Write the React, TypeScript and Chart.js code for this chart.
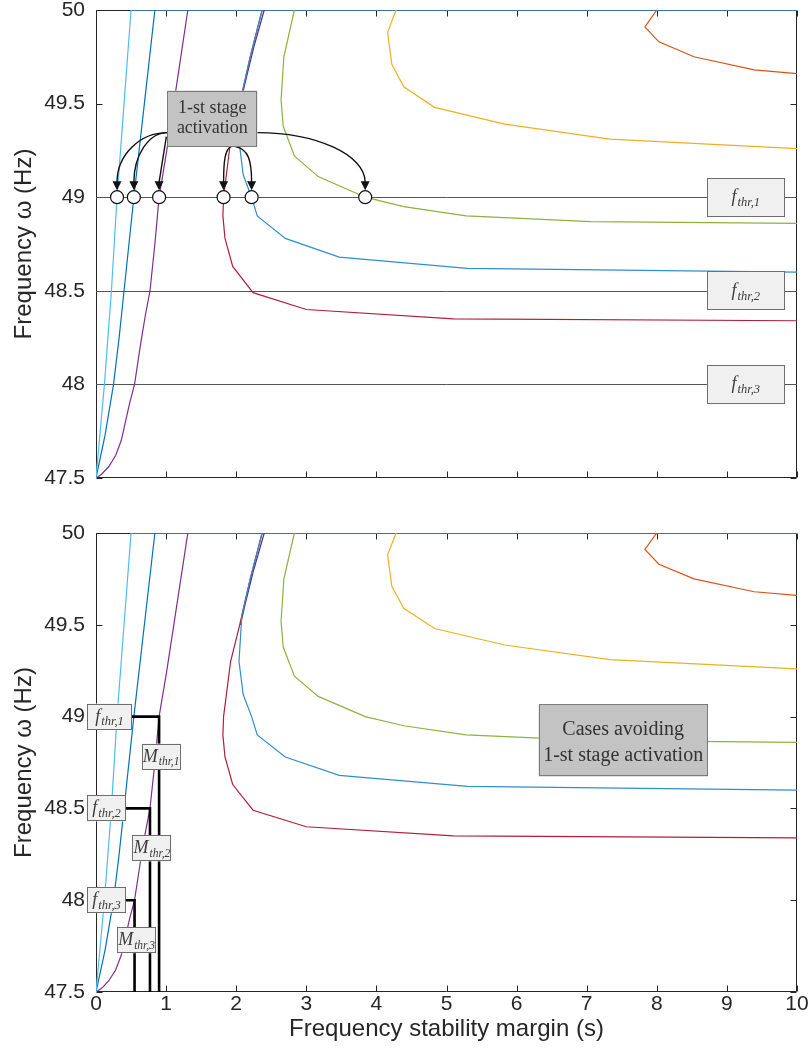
import { useEffect, useRef } from 'react';
import { Chart, registerables } from 'chart.js';

Chart.register(...registerables);

// ---- axes ----
const xTickValues = [0, 1, 2, 3, 4, 5, 6, 7, 8, 9, 10];
const yTickValues = [47.5, 48, 48.5, 49, 49.5, 50];

// ---- contour curves: frequency nadir vs. stability margin ----
const cyanX = [0, 0.12, 0.22, 0.3, 0.4, 0.5];
const cyanY = [47.5, 48, 48.5, 49, 49.5, 50];

const blueX = [0, 0.13, 0.25, 0.33, 0.4, 0.54, 0.69, 0.84];
const blueY = [47.5, 47.73, 48, 48.25, 48.5, 49, 49.5, 50];

const purpleX = [0, 0.08, 0.18, 0.28, 0.36, 0.42, 0.48, 0.55, 0.63, 0.7, 0.77, 0.84, 0.9, 1.01, 1.11, 1.21, 1.31];
const purpleY = [47.5, 47.52, 47.56, 47.62, 47.7, 47.8, 47.9, 48.0, 48.2, 48.36, 48.5, 48.75, 49.0, 49.25, 49.5, 49.75, 50];

const darkPurpleX = [2.4, 2.25, 2.12, 2.06];
const darkPurpleY = [50, 49.8, 49.6, 49.5];

const redX = [2.37, 2.2, 2.05, 1.92, 1.82, 1.81, 1.84, 1.95, 2.24, 3.0, 5.1, 10];
const redY = [50, 49.75, 49.5, 49.3, 49.0, 48.9, 48.78, 48.63, 48.49, 48.4, 48.35, 48.34];

const midBlueX = [2.37, 2.2, 2.08, 2.04, 2.1, 2.22, 2.3, 2.7, 3.47, 5.3, 10];
const midBlueY = [50, 49.75, 49.55, 49.3, 49.12, 49.0, 48.9, 48.78, 48.68, 48.62, 48.6];

const greenX = [2.83, 2.68, 2.64, 2.67, 2.83, 3.17, 3.84, 4.39, 5.28, 7.06, 10];
const greenY = [50, 49.75, 49.52, 49.38, 49.22, 49.11, 49.0, 48.95, 48.9, 48.87, 48.86];

const yellowX = [4.28, 4.16, 4.22, 4.39, 4.83, 5.83, 7.33, 10];
const yellowY = [50, 49.88, 49.71, 49.59, 49.48, 49.39, 49.31, 49.26];

const orangeX = [8.0, 7.83, 8.03, 8.53, 9.39, 10];
const orangeY = [50, 49.91, 49.83, 49.75, 49.68, 49.66];

const topEdgeX = [0.5, 10];
const topEdgeY = [50, 50];

// ---- thresholds ----
const freqThresholds = [49, 48.5, 48];
const thresholdSubs = ['thr,1', 'thr,2', 'thr,3'];
const marginThresholds = [0.9, 0.77, 0.55];
// margins where the f_thr,1 line is crossed
const activationX = [0.3, 0.54, 0.9, 1.82, 2.22, 3.84];

const SANS = '"Liberation Sans", Arial, Helvetica, sans-serif';
const SERIF = '"Liberation Serif", "Times New Roman", Times, serif';
const AXIS_COLOR = '#262626';

const curves = [
  { xs: cyanX, ys: cyanY, color: '#4DBEEE' },
  { xs: blueX, ys: blueY, color: '#0072BD' },
  { xs: purpleX, ys: purpleY, color: '#7E2F8E' },
  { xs: greenX, ys: greenY, color: '#8DB33A' },
  { xs: yellowX, ys: yellowY, color: '#EDB120' },
  { xs: orangeX, ys: orangeY, color: '#D95319' },
  { xs: midBlueX, ys: midBlueY, color: '#2F8FCB' },
  { xs: redX, ys: redY, color: '#B01E3C' },
  { xs: darkPurpleX, ys: darkPurpleY, color: '#5A2C7E' },
  { xs: topEdgeX, ys: topEdgeY, color: '#3D8FD0', width: 1.6 },
];

const toPoints = (xs: number[], ys: number[]) => xs.map((x, i) => ({ x, y: ys[i] }));

function drawBox(ctx: CanvasRenderingContext2D, x: number, y: number, w: number, h: number, fill: string, stroke: string) {
  ctx.save();
  ctx.fillStyle = fill;
  ctx.fillRect(x, y, w, h);
  ctx.strokeStyle = stroke;
  ctx.lineWidth = 1;
  ctx.strokeRect(Math.round(x) + 0.5, Math.round(y) + 0.5, Math.round(w) - 1, Math.round(h) - 1);
  ctx.restore();
}

function drawSubscripted(ctx: CanvasRenderingContext2D, cx: number, cy: number, main: string, sub: string, mainPx: number, subPx: number) {
  ctx.save();
  ctx.fillStyle = '#3c3c3c';
  ctx.textBaseline = 'alphabetic';
  ctx.textAlign = 'left';
  ctx.font = `italic ${mainPx}px ${SERIF}`;
  const w1 = ctx.measureText(main).width;
  ctx.font = `italic ${subPx}px ${SERIF}`;
  const w2 = ctx.measureText(sub).width;
  const gap = 1;
  const left = cx - (w1 + gap + w2) / 2;
  const base = cy + mainPx * 0.28;
  ctx.font = `italic ${mainPx}px ${SERIF}`;
  ctx.fillText(main, left, base);
  ctx.font = `italic ${subPx}px ${SERIF}`;
  ctx.fillText(sub, left + w1 + gap, base + subPx * 0.3);
  ctx.restore();
}

function arrowHead(ctx: CanvasRenderingContext2D, x: number, tipY: number, h: number) {
  ctx.beginPath();
  ctx.moveTo(x, tipY);
  ctx.lineTo(x - 4.5, tipY - h);
  ctx.lineTo(x + 4.5, tipY - h);
  ctx.closePath();
  ctx.fill();
}

// white page, box frame and inward tick marks
const framePlugin = {
  id: 'frame',
  beforeDraw(chart: any) {
    const { ctx, width, height } = chart;
    ctx.save();
    ctx.fillStyle = '#ffffff';
    ctx.fillRect(0, 0, width, height);
    ctx.restore();
  },
  beforeDatasetsDraw(chart: any) {
    const { ctx, chartArea: a, scales } = chart;
    const x = scales.x;
    const y = scales.y;
    const L = Math.round(a.left) + 0.5;
    const R = Math.round(a.right) - 0.5;
    const T = Math.round(a.top) + 0.5;
    const B = Math.round(a.bottom) - 0.5;
    const tl = 6;
    ctx.save();
    ctx.strokeStyle = AXIS_COLOR;
    ctx.lineWidth = 1;
    ctx.beginPath();
    ctx.rect(L, T, R - L, B - T);
    xTickValues.forEach((v) => {
      const px = Math.round(x.getPixelForValue(v)) + 0.5;
      ctx.moveTo(px, B);
      ctx.lineTo(px, B - tl);
      ctx.moveTo(px, T);
      ctx.lineTo(px, T + tl);
    });
    yTickValues.forEach((v) => {
      const py = Math.round(y.getPixelForValue(v)) + 0.5;
      ctx.moveTo(L, py);
      ctx.lineTo(L + tl, py);
      ctx.moveTo(R, py);
      ctx.lineTo(R - tl, py);
    });
    ctx.stroke();
    ctx.restore();
  },
};

// upper panel: threshold lines, their labels and the activation markers
const upperNotes = {
  id: 'upperNotes',
  beforeDatasetsDraw(chart: any) {
    const { ctx, chartArea: a, scales } = chart;
    const y = scales.y;
    ctx.save();
    ctx.strokeStyle = '#555555';
    ctx.lineWidth = 1;
    ctx.beginPath();
    freqThresholds.forEach((f) => {
      const py = Math.round(y.getPixelForValue(f)) + 0.5;
      ctx.moveTo(a.left, py);
      ctx.lineTo(a.right, py);
    });
    ctx.stroke();
    ctx.restore();
  },
  afterDatasetsDraw(chart: any) {
    const { ctx, scales } = chart;
    const x = scales.x;
    const y = scales.y;

    freqThresholds.forEach((f, i) => {
      const cx = x.getPixelForValue(9.27);
      const cy = y.getPixelForValue(f);
      drawBox(ctx, cx - 39, cy - 19.5, 78, 39, '#f0f0f0', '#6e6e6e');
      drawSubscripted(ctx, cx, cy, 'f', thresholdSubs[i], 18, 12.5);
    });

    const bx = x.getPixelForValue(1.66);
    const by = y.getPixelForValue(49.42);
    const bw = 90;
    const bh = 56;
    const L = bx - bw / 2;
    const T = by - bh / 2;
    const R = L + bw;
    const B = T + bh;

    const fy = y.getPixelForValue(freqThresholds[0]);
    const r = 6.5;
    const tipY = fy - r - 0.5;
    const headH = 9;
    const endY = tipY - headH + 1;
    const cxs = activationX.map((v) => x.getPixelForValue(v));

    ctx.save();
    ctx.strokeStyle = '#111111';
    ctx.fillStyle = '#111111';
    ctx.lineWidth = 1.4;

    const sideArrow = (sx: number, sy: number, tx: number) => {
      ctx.beginPath();
      ctx.moveTo(sx, sy);
      ctx.bezierCurveTo(sx + (tx - sx) * 0.55, sy, tx, endY - (endY - sy) * 0.55, tx, endY);
      ctx.stroke();
    };
    const dropArrow = (sx: number, sy: number, tx: number) => {
      ctx.beginPath();
      ctx.moveTo(sx, sy);
      ctx.bezierCurveTo(sx + (tx - sx) * 0.8, sy + 2, tx, sy + (endY - sy) * 0.4, tx, endY);
      ctx.stroke();
    };

    sideArrow(L, T + 42, cxs[0]);
    sideArrow(L, T + 42, cxs[1]);
    ctx.beginPath();
    ctx.moveTo(L - 1, B - 10);
    ctx.lineTo(cxs[2], endY);
    ctx.stroke();
    dropArrow(L + 64, B, cxs[3]);
    dropArrow(L + 68, B, cxs[4]);
    sideArrow(R, T + 42, cxs[5]);
    ctx.restore();

    drawBox(ctx, L, T, bw, bh, '#c3c3c3', '#7a7a7a');
    ctx.save();
    ctx.fillStyle = '#333333';
    ctx.font = `18px ${SERIF}`;
    ctx.textAlign = 'center';
    ctx.textBaseline = 'middle';
    ctx.fillText('1-st stage', bx, by - 10);
    ctx.fillText('activation', bx, by + 10);
    ctx.restore();

    ctx.save();
    cxs.forEach((cx) => {
      ctx.beginPath();
      ctx.arc(cx, fy, r, 0, Math.PI * 2);
      ctx.fillStyle = '#ffffff';
      ctx.fill();
      ctx.strokeStyle = '#111111';
      ctx.lineWidth = 1.2;
      ctx.stroke();
    });
    ctx.fillStyle = '#111111';
    cxs.forEach((cx) => arrowHead(ctx, cx, tipY, headH));
    ctx.restore();
  },
};

// lower panel: margin thresholds and the "avoiding" region note
const lowerNotes = {
  id: 'lowerNotes',
  afterDatasetsDraw(chart: any) {
    const { ctx, scales } = chart;
    const x = scales.x;
    const y = scales.y;
    const bottom = y.getPixelForValue(yTickValues[0]);
    const fBoxW = [45, 39, 39];
    const fBoxH = 26;
    const boxLeft = x.getPixelForValue(-0.128);

    ctx.save();
    ctx.strokeStyle = '#000000';
    ctx.lineWidth = 2.6;
    ctx.lineJoin = 'miter';
    freqThresholds.forEach((f, i) => {
      const fy = y.getPixelForValue(f);
      const mx = x.getPixelForValue(marginThresholds[i]);
      ctx.beginPath();
      ctx.moveTo(boxLeft + fBoxW[i] - 1, fy);
      ctx.lineTo(mx, fy);
      ctx.lineTo(mx, bottom);
      ctx.stroke();
    });
    ctx.restore();

    freqThresholds.forEach((f, i) => {
      const fy = y.getPixelForValue(f);
      drawBox(ctx, boxLeft, fy - fBoxH / 2, fBoxW[i], fBoxH, '#f0f0f0', '#6e6e6e');
      drawSubscripted(ctx, boxLeft + fBoxW[i] / 2, fy, 'f', thresholdSubs[i], 18, 12.5);
    });

    freqThresholds.forEach((f, i) => {
      const cy = y.getPixelForValue(f) + 40;
      const cx = x.getPixelForValue(marginThresholds[i]) + 2;
      drawBox(ctx, cx - 19.5, cy - 13, 39, 26, '#f0f0f0', '#6e6e6e');
      drawSubscripted(ctx, cx, cy, 'M', thresholdSubs[i], 18, 11.5);
    });

    const cx = x.getPixelForValue(7.52);
    const cy = y.getPixelForValue(48.87);
    drawBox(ctx, cx - 84.5, cy - 36, 169, 72, '#c3c3c3', '#7a7a7a');
    ctx.save();
    ctx.fillStyle = '#333333';
    ctx.font = `20px ${SERIF}`;
    ctx.textAlign = 'center';
    ctx.textBaseline = 'middle';
    ctx.fillText('Cases avoiding', cx, cy - 11);
    ctx.fillText('1-st stage activation', cx, cy + 15);
    ctx.restore();
  },
};

function buildChart(canvas: HTMLCanvasElement, showX: boolean, padTop: number, xHeight: number, notes: any) {
  return new Chart(canvas, {
    type: 'scatter',
    data: {
      datasets: curves.map((c) => ({
        data: toPoints(c.xs, c.ys),
        showLine: true,
        borderColor: c.color,
        backgroundColor: c.color,
        borderWidth: (c as any).width ?? 1.2,
        pointRadius: 0,
        fill: false,
        tension: 0,
      })),
    },
    options: {
      responsive: false,
      animation: false,
      events: [],
      layout: { padding: { left: 0, right: 13, top: padTop, bottom: 0 } },
      plugins: { legend: { display: false }, tooltip: { enabled: false } },
      scales: {
        x: {
          type: 'linear',
          min: 0,
          max: 10,
          afterBuildTicks: (s: any) => {
            s.ticks = xTickValues.map((v) => ({ value: v }));
          },
          afterFit: (s: any) => {
            s.height = xHeight;
            s.paddingLeft = 0;
            s.paddingRight = 0;
          },
          ticks: {
            display: showX,
            font: { family: SANS, size: 21 },
            color: AXIS_COLOR,
            padding: 0,
            maxRotation: 0,
            autoSkip: false,
          },
          grid: { display: false, drawTicks: false },
          border: { display: false },
          title: {
            display: showX,
            text: 'Frequency stability margin (s)',
            font: { family: SANS, size: 24 },
            color: AXIS_COLOR,
            padding: { top: 0, bottom: 7 },
          },
        },
        y: {
          type: 'linear',
          min: 47.5,
          max: 50,
          afterBuildTicks: (s: any) => {
            s.ticks = yTickValues.map((v) => ({ value: v }));
          },
          afterFit: (s: any) => {
            s.width = 96;
            s.paddingTop = 0;
            s.paddingBottom = 0;
          },
          ticks: {
            font: { family: SANS, size: 21 },
            color: AXIS_COLOR,
            padding: 11,
            callback: (v: any) => String(v),
          },
          grid: { display: false, drawTicks: false },
          border: { display: false },
          title: {
            display: true,
            text: 'Frequency \u03C9 (Hz)',
            font: { family: SANS, size: 24 },
            color: AXIS_COLOR,
            padding: { top: 10, bottom: 0 },
          },
        },
      },
    } as any,
    plugins: [framePlugin, notes],
  });
}

export default function App() {
  const upperRef = useRef<HTMLCanvasElement>(null);
  const lowerRef = useRef<HTMLCanvasElement>(null);

  useEffect(() => {
    const upper = buildChart(upperRef.current!, false, 10, 27, upperNotes);
    const lower = buildChart(lowerRef.current!, true, 28, 59, lowerNotes);
    return () => {
      upper.destroy();
      lower.destroy();
    };
  }, []);

  return (
    <div style={{ position: 'absolute', left: 0, top: 0, width: 810, height: 1051, background: '#ffffff' }}>
      <canvas
        ref={upperRef}
        width={810}
        height={505}
        style={{ position: 'absolute', left: 0, top: 0, width: 810, height: 505 }}
      />
      <canvas
        ref={lowerRef}
        width={810}
        height={546}
        style={{ position: 'absolute', left: 0, top: 505, width: 810, height: 546 }}
      />
    </div>
  );
}
